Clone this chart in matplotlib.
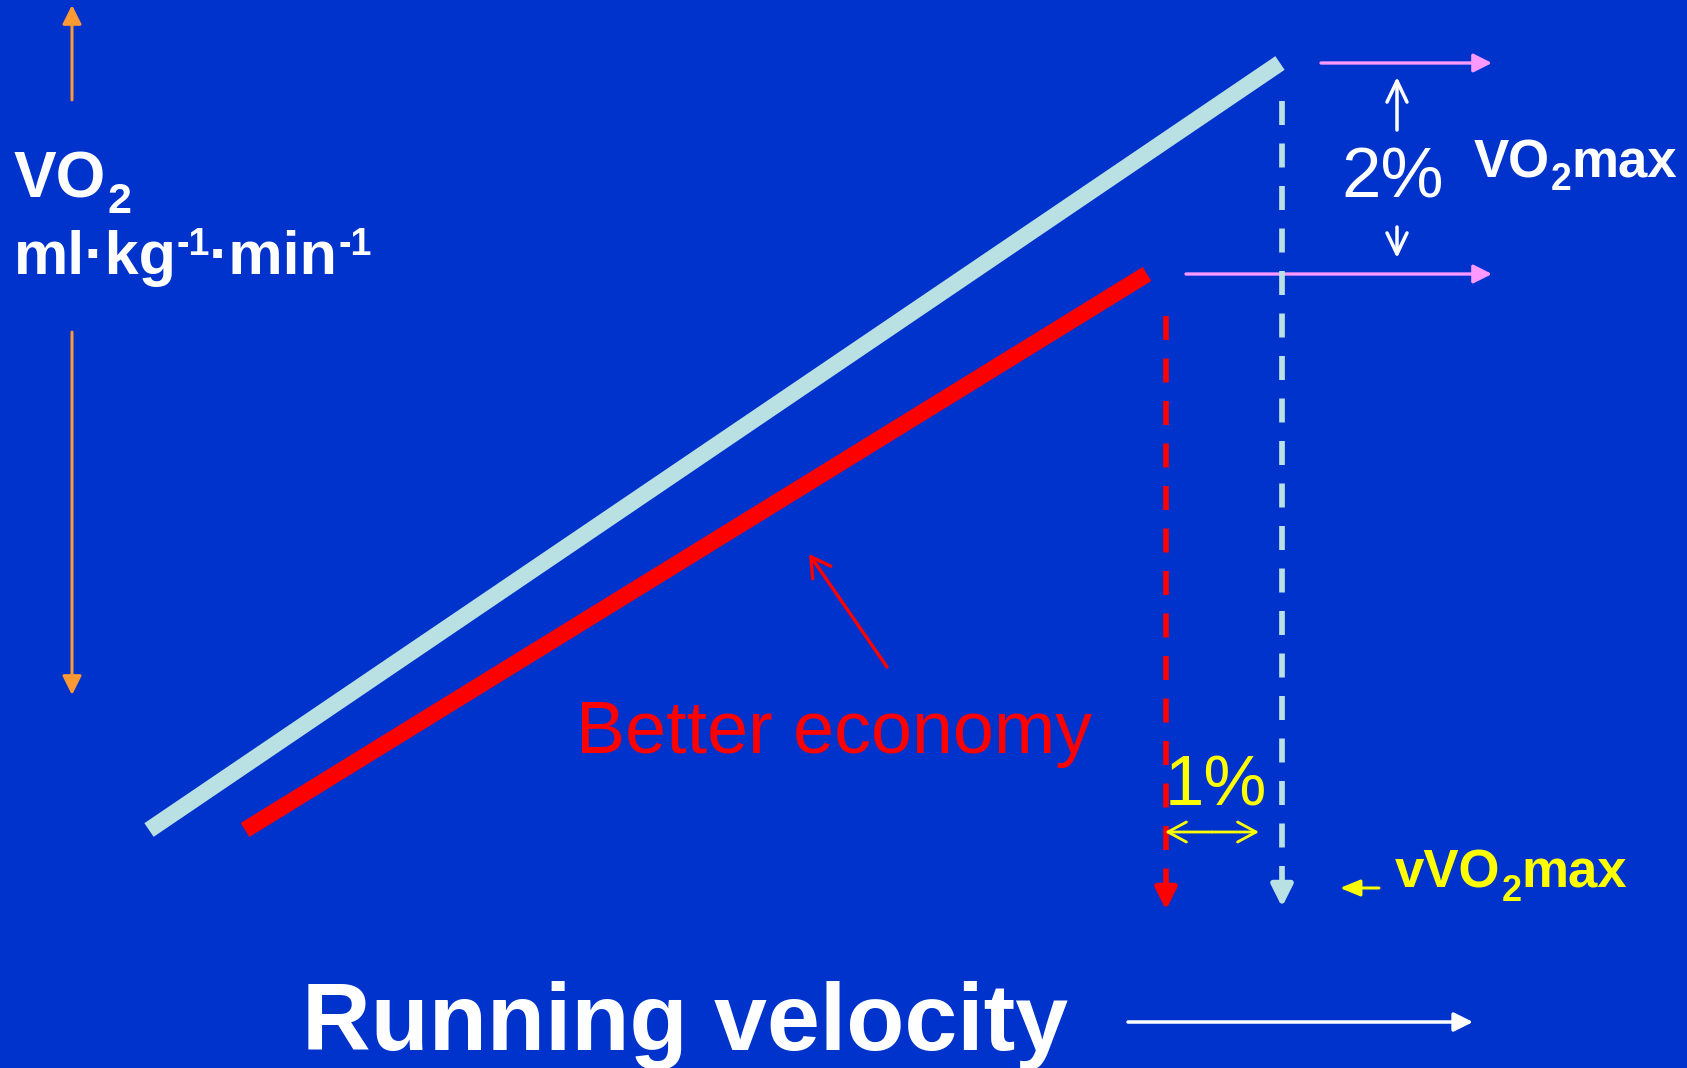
import matplotlib
matplotlib.use("Agg")
import matplotlib.pyplot as plt

# --- diagram data (screen-like units, y grows downward) ---
# VO2 vs running velocity for the reference runner and the more economical runner
velocity_ref = [149, 1280]
vo2_ref = [830, 63]
velocity_econ = [245, 1147]
vo2_econ = [830, 274]

# vVO2max drop lines (x position, top, arrow tip)
vmax_ref_x = 1282
vmax_ref_y = [101, 907]
vmax_econ_x = 1166
vmax_econ_y = [316, 910]

# VO2max reference levels
vo2max_levels = [63, 274]
vo2max_level_starts = [1321, 1186]
vo2max_level_end = 1492

BG = "#0033CC"
LIGHT = "#B9E0E2"
RED = "#FF0000"
PINK = "#FF99FF"
ORANGE = "#FF9933"
YELLOW = "#FFFF00"
WHITE = "#FFFFFF"

plt.rcParams["font.family"] = ["Liberation Sans", "DejaVu Sans"]
plt.rcParams["lines.scale_dashes"] = False

W, H = 1687, 1068
fig = plt.figure(figsize=(W / 100, H / 100), dpi=100)
fig.patch.set_facecolor(BG)
ax = fig.add_axes([0, 0, 1, 1])
ax.set_facecolor(BG)
ax.set_xlim(0, W)
ax.set_ylim(H, 0)
ax.axis("off")

PX = 72 / 100  # points per pixel
renderer = fig.canvas.get_renderer()


def arrow(tail, tip, color, lw_px, style, hl_px, hw_px, z=4):
    ax.annotate(
        "", xy=tip, xytext=tail,
        arrowprops=dict(
            arrowstyle=f"{style},head_length={hl_px * PX:.2f},head_width={hw_px * PX:.2f}",
            color=color, lw=lw_px * PX, shrinkA=0, shrinkB=0, mutation_scale=1,
        ),
        zorder=z,
    )


def rich_text(x, y, pieces, color, weight="bold"):
    """Draw text runs side by side; each piece is (text, size, vertical shift, gap after)."""
    for s, size, dy, gap in pieces:
        t = ax.text(x, y + dy, s, color=color, fontsize=size, fontweight=weight,
                    va="baseline", ha="left", zorder=5)
        bb = t.get_window_extent(renderer=renderer)
        x = bb.x1 + gap


# main VO2 lines
ax.plot(velocity_ref, vo2_ref, color=LIGHT, lw=16.5 * PX, solid_capstyle="butt", zorder=3)
ax.plot(velocity_econ, vo2_econ, color=RED, lw=16.5 * PX, solid_capstyle="butt", zorder=3)

# VO2max level arrows
for start, lvl in zip(vo2max_level_starts, vo2max_levels):
    arrow((start, lvl), (vo2max_level_end, lvl), PINK, 3.3, "-|>", 15.5, 7.8, z=2)

# dashed drop lines to vVO2max
dash = (24 * PX, 18.5 * PX)
head_len = 18
for x, (top, tip), col in [(vmax_ref_x, vmax_ref_y, LIGHT), (vmax_econ_x, vmax_econ_y, RED)]:
    ax.plot([x, x], [top, tip - head_len], color=col, lw=5.7 * PX,
            dashes=dash, dash_capstyle="butt", zorder=3)
    arrow((x, tip - head_len - 1), (x, tip), col, 5.7, "-|>", head_len, 9, z=3)

# y-axis direction arrows
arrow((72, 100), (72, 5), ORANGE, 3, "-|>", 16, 8)
arrow((72, 332), (72, 695), ORANGE, 3, "-|>", 16, 8)

# x-axis direction arrow
arrow((1128, 1022), (1473, 1022), WHITE, 3.5, "-|>", 16, 8)

# 2% VO2max arrows
arrow((1397, 130), (1397, 77), WHITE, 3.5, "->", 21, 10)
arrow((1397, 227), (1397, 258), WHITE, 3.5, "->", 21, 10)

# 1% velocity arrow
arrow((1212, 832), (1165, 832), YELLOW, 2.8, "->", 18.5, 10)
arrow((1212, 832), (1259, 832), YELLOW, 2.8, "->", 18.5, 10)

# vVO2max pointer
arrow((1379, 888), (1340, 888), YELLOW, 3, "-|>", 17, 7)

# economy pointer
arrow((887, 667), (809, 554), RED, 3.4, "->", 19, 11)

# axis labels
rich_text(14, 198, [("VO", 46, 0, 1), ("2", 31, 15, 0)], WHITE)
rich_text(14, 274, [("ml·kg", 44, 0, 0), ("-1", 27, -19, -1),
                    ("·min", 44, 0, 0), ("-1", 27, -19, 0)], WHITE)
ax.text(302, 1050, "Running velocity", color=WHITE, fontsize=68.5, fontweight="bold",
        va="baseline", ha="left", zorder=5)

# annotations
ax.text(576, 753, "Better economy", color=RED, fontsize=53,
        va="baseline", ha="left", zorder=5)
ax.text(1341, 198, "2%", color=WHITE, fontsize=51,
        va="baseline", ha="left", zorder=5)
rich_text(1474, 177, [("VO", 38, 0, 1), ("2", 27, 13, 0), ("max", 38, 0, 0)], WHITE)
ax.text(1165, 805, "1%", color=YELLOW, fontsize=51,
        va="baseline", ha="left", zorder=5)
rich_text(1395, 888, [("vVO", 38, 0, 1), ("2", 26, 13, 0), ("max", 38, 0, 0)], YELLOW)

fig.savefig("out.png", dpi=100, facecolor=BG)
